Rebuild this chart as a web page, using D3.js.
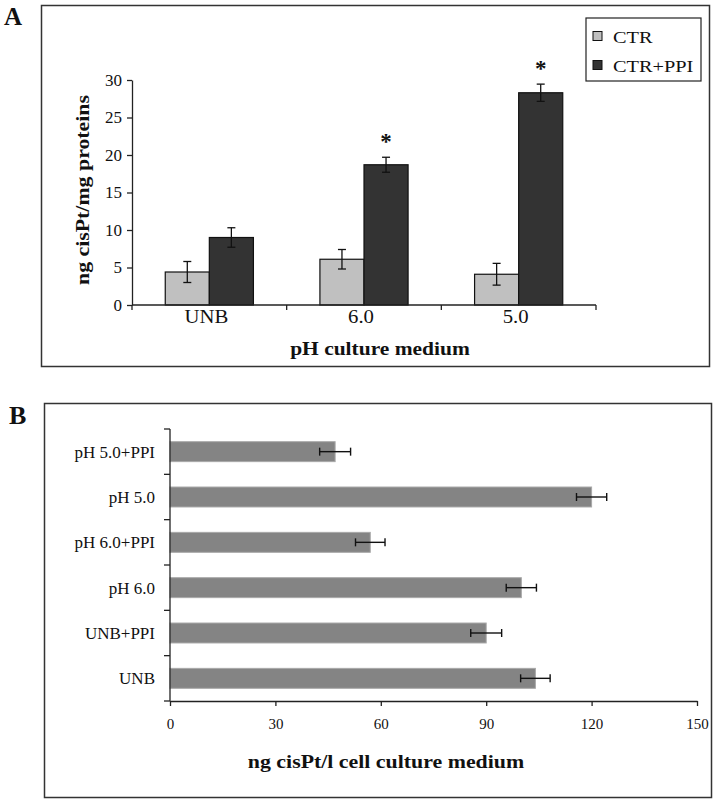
<!DOCTYPE html>
<html><head><meta charset="utf-8">
<script src="https://cdn.jsdelivr.net/npm/d3@7"></script>
<style>
body{margin:0;background:#fff;}
svg{display:block;}
text{font-family:"Liberation Serif","Times New Roman",serif;fill:#111;}
</style></head>
<body>
<svg id="c" width="717" height="803"></svg>
<script>
// ---- Panel A data ----
const groupsA = ["UNB", "6.0", "5.0"];
const seriesA = ["CTR", "CTR+PPI"];
const ctrValues = [4.4, 6.1, 4.1];
const ctrErrors = [1.4, 1.3, 1.45];
const ppiValues = [9.0, 18.7, 28.3];
const ppiErrors = [1.3, 1.0, 1.15];
const significantA = [false, true, true]; // asterisk over CTR+PPI
const yTicksA = [0, 5, 10, 15, 20, 25, 30];

// ---- Panel B data ----
const categoriesB = ["pH 5.0+PPI", "pH 5.0", "pH 6.0+PPI", "pH 6.0", "UNB+PPI", "UNB"];
const valuesB = [47, 120, 57, 100, 90, 104];
const errorsB = [4.4, 4.3, 4.2, 4.3, 4.4, 4.2];
const xTicksB = [0, 30, 60, 90, 120, 150];

const svg = d3.select("#c");
const colorsA = {"CTR": "#c0c0c0", "CTR+PPI": "#333333"};

// widen serif text to match the reference's broader typeface
function stretch(sel, k) {
  sel.each(function() {
    const w = this.getComputedTextLength();
    d3.select(this).attr("textLength", w * k).attr("lengthAdjust", "spacingAndGlyphs");
  });
}

// ---------- Panel A ----------
svg.append("rect").attr("x", 41.5).attr("y", 5.5).attr("width", 668).attr("height", 361)
  .attr("fill", "none").attr("stroke", "#333").attr("stroke-width", 1.5);
svg.append("text").attr("x", 4).attr("y", 25).attr("font-size", 25).attr("font-weight", "bold").text("A");

const axL = 132, axR = 596;
const yA = d3.scaleLinear().domain([0, 30]).range([305, 80]);
const xA = d3.scaleBand().domain(groupsA).range([axL, axR]).paddingInner(0.43).paddingOuter(0.215);
const xSub = d3.scaleBand().domain(seriesA).range([0, xA.bandwidth()]);

const gA = svg.append("g");
const rowsA = groupsA.map((g, i) => ({
  g, vals: [
    {s: "CTR", v: ctrValues[i], e: ctrErrors[i]},
    {s: "CTR+PPI", v: ppiValues[i], e: ppiErrors[i]}
  ], sig: significantA[i]
}));

const grp = gA.selectAll("g.grp").data(rowsA).join("g")
  .attr("transform", d => `translate(${xA(d.g)},0)`);
grp.selectAll("rect").data(d => d.vals).join("rect")
  .attr("x", d => xSub(d.s)).attr("width", xSub.bandwidth())
  .attr("y", d => yA(d.v)).attr("height", d => yA(0) - yA(d.v))
  .attr("fill", d => colorsA[d.s]).attr("stroke", "#111").attr("stroke-width", 1.2);
grp.selectAll("g.err").data(d => d.vals).join("g").attr("class", "err")
  .each(function(d) {
    const cx = xSub(d.s) + xSub.bandwidth() / 2;
    const g = d3.select(this);
    g.append("line").attr("x1", cx).attr("x2", cx).attr("y1", yA(d.v + d.e)).attr("y2", yA(d.v - d.e));
    g.append("line").attr("x1", cx - 4).attr("x2", cx + 4).attr("y1", yA(d.v + d.e)).attr("y2", yA(d.v + d.e));
    g.append("line").attr("x1", cx - 4).attr("x2", cx + 4).attr("y1", yA(d.v - d.e)).attr("y2", yA(d.v - d.e));
  })
  .selectAll("line").attr("stroke", "#111").attr("stroke-width", 1.3);
grp.filter(d => d.sig).append("text")
  .attr("x", xSub("CTR+PPI") + xSub.bandwidth() / 2)
  .attr("y", d => yA(d.vals[1].v + d.vals[1].e) - 8)
  .attr("text-anchor", "middle").attr("font-size", 23).attr("font-weight", "bold").text("*");

// y axis A
const yAxisA = svg.append("g").attr("transform", `translate(${axL},0)`)
  .call(d3.axisLeft(yA).tickValues(yTicksA).tickSize(5).tickPadding(5).tickSizeOuter(0));
yAxisA.select(".domain").attr("stroke", "#222").attr("stroke-width", 1.3);
yAxisA.selectAll(".tick line").attr("stroke", "#222").attr("stroke-width", 1.3);
yAxisA.selectAll(".tick text").attr("font-family", "'Liberation Sans', Arial, sans-serif")
  .attr("font-size", 17).attr("fill", "#222");

// x axis A
svg.append("line").attr("x1", axL).attr("x2", axR).attr("y1", 305).attr("y2", 305)
  .attr("stroke", "#222").attr("stroke-width", 1.5);
const boundsA = [axL].concat(groupsA.map(g => xA(g) + xA.bandwidth() + xA.step() * xA.paddingInner() / 2));
boundsA[boundsA.length - 1] = axR;
svg.selectAll("line.xtA").data(boundsA).join("line").attr("class", "xtA")
  .attr("x1", d => d).attr("x2", d => d).attr("y1", 305).attr("y2", 310)
  .attr("stroke", "#222").attr("stroke-width", 1.3);
svg.selectAll("text.xlA").data(groupsA).join("text").attr("class", "xlA")
  .attr("x", d => xA(d) + xA.bandwidth() / 2 - 3).attr("y", 323)
  .attr("text-anchor", "middle").attr("font-size", 18.5).text(d => d)
  .call(stretch, 1.12);

svg.append("text").attr("x", 380).attr("y", 355).attr("text-anchor", "middle")
  .attr("font-size", 18.5).attr("font-weight", "bold").text("pH culture medium")
  .call(stretch, 1.16);
svg.append("text").attr("transform", "translate(89,190) rotate(-90)").attr("text-anchor", "middle")
  .attr("font-size", 18.5).attr("font-weight", "bold").text("ng cisPt/mg proteins")
  .call(stretch, 1.18);

// legend A
const leg = svg.append("g");
leg.append("rect").attr("x", 586).attr("y", 18).attr("width", 115).attr("height", 63)
  .attr("fill", "#fff").attr("stroke", "#222").attr("stroke-width", 1.2);
const legRows = leg.selectAll("g.lr").data(seriesA).join("g")
  .attr("transform", (d, i) => `translate(593,${36 + i * 29})`);
legRows.append("rect").attr("x", 0).attr("y", -4.5).attr("width", 9).attr("height", 9)
  .attr("fill", d => colorsA[d]).attr("stroke", "#111").attr("stroke-width", 1);
legRows.append("text").attr("x", 20).attr("y", 6.5).attr("font-size", 17.5).text(d => d)
  .call(stretch, 1.16);

// ---------- Panel B ----------
svg.append("rect").attr("x", 44.5).attr("y", 403.5).attr("width", 667).attr("height", 394)
  .attr("fill", "none").attr("stroke", "#333").attr("stroke-width", 1.5);
svg.append("text").attr("x", 9).attr("y", 424).attr("font-size", 26).attr("font-weight", "bold").text("B");

const xB = d3.scaleLinear().domain([0, 150]).range([170, 697]);
const yB = d3.scaleBand().domain(categoriesB).range([429, 701]).paddingInner(0.56).paddingOuter(0.28);
const rowsB = categoriesB.map((c, i) => ({c, v: valuesB[i], e: errorsB[i]}));

svg.selectAll("rect.barB").data(rowsB).join("rect").attr("class", "barB")
  .attr("x", xB(0)).attr("y", d => yB(d.c)).attr("width", d => xB(d.v) - xB(0)).attr("height", yB.bandwidth())
  .attr("fill", "#848484").attr("stroke", "#a8a8a8").attr("stroke-width", 1);
const eb = svg.selectAll("g.ebB").data(rowsB).join("g").attr("class", "ebB");
eb.append("line").attr("x1", d => xB(d.v - d.e)).attr("x2", d => xB(d.v + d.e))
  .attr("y1", d => yB(d.c) + yB.bandwidth() / 2).attr("y2", d => yB(d.c) + yB.bandwidth() / 2);
eb.append("line").attr("x1", d => xB(d.v - d.e)).attr("x2", d => xB(d.v - d.e))
  .attr("y1", d => yB(d.c) + yB.bandwidth() / 2 - 4).attr("y2", d => yB(d.c) + yB.bandwidth() / 2 + 4);
eb.append("line").attr("x1", d => xB(d.v + d.e)).attr("x2", d => xB(d.v + d.e))
  .attr("y1", d => yB(d.c) + yB.bandwidth() / 2 - 4).attr("y2", d => yB(d.c) + yB.bandwidth() / 2 + 4);
eb.selectAll("line").attr("stroke", "#111").attr("stroke-width", 1.4);

// x axis B
const xAxisB = svg.append("g").attr("transform", "translate(0,701)")
  .call(d3.axisBottom(xB).tickValues(xTicksB).tickSize(5).tickPadding(12).tickSizeOuter(0));
xAxisB.select(".domain").attr("stroke", "#222").attr("stroke-width", 1.3);
xAxisB.selectAll(".tick line").attr("stroke", "#222").attr("stroke-width", 1.3);
xAxisB.selectAll(".tick text").attr("font-family", "'Liberation Serif', serif").attr("font-size", 15).attr("fill", "#222");

// y axis B
svg.append("line").attr("x1", 170).attr("x2", 170).attr("y1", 429).attr("y2", 701)
  .attr("stroke", "#222").attr("stroke-width", 1.3);
const boundsB = [429].concat(categoriesB.map(c => yB(c) + yB.bandwidth() + yB.step() * yB.paddingInner() / 2));
boundsB[boundsB.length - 1] = 701;
svg.selectAll("line.ytB").data(boundsB).join("line").attr("class", "ytB")
  .attr("x1", 164).attr("x2", 170).attr("y1", d => d).attr("y2", d => d)
  .attr("stroke", "#222").attr("stroke-width", 1.3);
svg.selectAll("text.ylB").data(categoriesB).join("text").attr("class", "ylB")
  .attr("x", 155).attr("y", d => yB(d) + yB.bandwidth() / 2 + 6)
  .attr("text-anchor", "end").attr("font-size", 17).text(d => d);

svg.append("text").attr("x", 386).attr("y", 768).attr("text-anchor", "middle")
  .attr("font-size", 19).attr("font-weight", "bold").text("ng cisPt/l cell culture medium")
  .call(stretch, 1.15);
</script>
</body></html>
